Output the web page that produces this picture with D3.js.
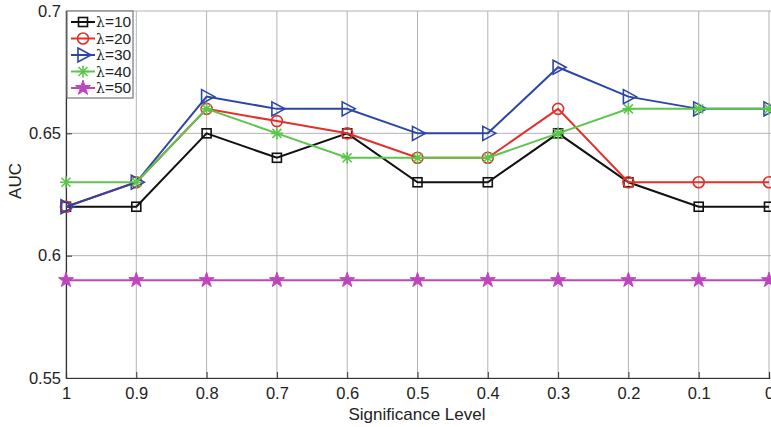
<!DOCTYPE html>
<html>
<head>
<meta charset="utf-8">
<script src="https://cdn.jsdelivr.net/npm/d3@7"></script>
<style>
  body { margin: 0; background: #fff; }
  text { font-family: "Liberation Sans", Arial, sans-serif; fill: #222; }
  .grid line { stroke: #b4b4b4; stroke-width: 1; }
</style>
</head>
<body>
<svg id="chart" width="771" height="427"></svg>
<script>
// significance levels on the x axis (reversed: 1 -> 0)
const levels = [1, 0.9, 0.8, 0.7, 0.6, 0.5, 0.4, 0.3, 0.2, 0.1, 0];
const xTickLabels = ["1", "0.9", "0.8", "0.7", "0.6", "0.5", "0.4", "0.3", "0.2", "0.1", "0"];
const yTicks = [0.55, 0.6, 0.65, 0.7];

const lambdas = [10, 20, 30, 40, 50];
const lambda10 = [0.62, 0.62, 0.65, 0.64, 0.65, 0.63, 0.63, 0.65, 0.63, 0.62, 0.62];
const lambda20 = [0.62, 0.63, 0.66, 0.655, 0.65, 0.64, 0.64, 0.66, 0.63, 0.63, 0.63];
const lambda30 = [0.62, 0.63, 0.665, 0.66, 0.66, 0.65, 0.65, 0.677, 0.665, 0.66, 0.66];
const lambda40 = [0.63, 0.63, 0.66, 0.65, 0.64, 0.64, 0.64, 0.65, 0.66, 0.66, 0.66];
const lambda50 = [0.59, 0.59, 0.59, 0.59, 0.59, 0.59, 0.59, 0.59, 0.59, 0.59, 0.59];

const series = [
  { lambda: lambdas[0], values: lambda10, color: "#111111", marker: "square" },
  { lambda: lambdas[1], values: lambda20, color: "#e3302a", marker: "circle" },
  { lambda: lambdas[2], values: lambda30, color: "#2c46a6", marker: "triangle" },
  { lambda: lambdas[3], values: lambda40, color: "#5cc64c", marker: "asterisk" },
  { lambda: lambdas[4], values: lambda50, color: "#bf45bf", marker: "star" }
];

const svg = d3.select("#chart");
const margin = { left: 66, top: 11 };
const width = 703, height = 367;

const x = d3.scaleLinear().domain([1, 0]).range([0, width]);
const y = d3.scaleLinear().domain([0.55, 0.7]).range([height, 0]);

const g = svg.append("g").attr("transform", `translate(${margin.left},${margin.top})`);

// grid
const grid = g.append("g").attr("class", "grid");
grid.selectAll(".vx").data(levels).enter().append("line")
  .attr("x1", d => x(d)).attr("x2", d => x(d))
  .attr("y1", 0).attr("y2", height);
grid.selectAll(".hy").data(yTicks).enter().append("line")
  .attr("x1", 0).attr("x2", width + 4)
  .attr("y1", d => y(d)).attr("y2", d => y(d));

// axes
const xAxis = d3.axisBottom(x).tickValues(levels)
  .tickFormat((d, i) => xTickLabels[i]).tickSize(-6).tickPadding(9);
const yAxis = d3.axisLeft(y).tickValues(yTicks)
  .tickFormat(d3.format("")).tickSize(-6).tickPadding(5);

const gx = g.append("g").attr("transform", `translate(0,${height})`).call(xAxis);
const gy = g.append("g").call(yAxis);
[gx, gy].forEach(a => {
  a.select(".domain").attr("stroke", "#333").attr("stroke-width", 1.2);
  a.selectAll(".tick line").attr("stroke", "#333");
  a.selectAll("text").style("font-size", "16.5px").attr("fill", "#1a1a1a")
    .style("font-family", "'Liberation Sans', Arial, sans-serif");
});

// markers
function drawMarker(sel, type, color) {
  if (type === "square") {
    sel.append("rect").attr("x", -4.5).attr("y", -4.5).attr("width", 9).attr("height", 9)
      .attr("fill", "none").attr("stroke", color).attr("stroke-width", 1.6);
  } else if (type === "circle") {
    sel.append("circle").attr("r", 5.5)
      .attr("fill", "none").attr("stroke", color).attr("stroke-width", 1.6);
  } else if (type === "triangle") {
    sel.append("path").attr("d", "M-5,-7L8,0L-5,7Z")
      .attr("fill", "none").attr("stroke", color).attr("stroke-width", 1.6);
  } else if (type === "asterisk") {
    sel.append("path").attr("d", "M-6,0H6M0,-6V6M-4.5,-4.5L4.5,4.5M-4.5,4.5L4.5,-4.5")
      .attr("fill", "none").attr("stroke", color).attr("stroke-width", 1.6);
  } else if (type === "star") {
    sel.append("path").attr("d", d3.symbol(d3.symbolStar, 70)())
      .attr("fill", color).attr("stroke", color).attr("stroke-width", 1);
  }
}

const line = d3.line().x((d, i) => x(levels[i])).y(d => y(d));

const plot = g.append("g");
series.forEach(s => {
  const sg = plot.append("g");
  sg.append("path").datum(s.values)
    .attr("fill", "none").attr("stroke", s.color).attr("stroke-width", 2)
    .attr("d", line);
  sg.selectAll(".m").data(s.values).enter().append("g")
    .attr("transform", (d, i) => `translate(${x(levels[i])},${y(d)})`)
    .each(function () { drawMarker(d3.select(this), s.marker, s.color); });
});

// axis titles
svg.append("text").attr("x", 417).attr("y", 420)
  .attr("text-anchor", "middle").style("font-size", "17px").text("Significance Level");
svg.append("text").attr("transform", "translate(21,181) rotate(-90)")
  .attr("text-anchor", "middle").style("font-size", "17px").text("AUC");

// legend
const legend = svg.append("g").attr("transform", "translate(67,11)");
legend.append("rect").attr("width", 66).attr("height", 87)
  .attr("fill", "#fff").attr("stroke", "#777").attr("stroke-width", 1.2);
series.forEach((s, i) => {
  const row = legend.append("g").attr("transform", `translate(0,${11 + i * 16.5})`);
  row.append("line").attr("x1", 4).attr("x2", 28).attr("stroke", s.color).attr("stroke-width", 2);
  const m = row.append("g").attr("transform", "translate(16,0)");
  drawMarker(m, s.marker, s.color);
  const t = row.append("text").attr("x", 29).attr("dy", "0.35em").style("font-size", "15.5px");
  t.append("tspan").style("font-family", "'DejaVu Serif', serif").style("font-size", "14px").text("\u03bb");
  t.append("tspan").text("=" + s.lambda);
});
</script>
</body>
</html>
